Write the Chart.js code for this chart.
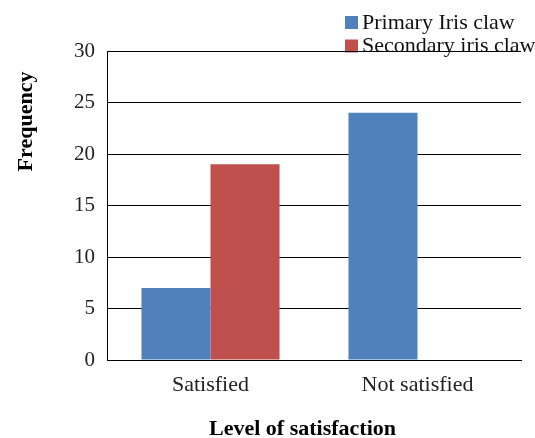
<!DOCTYPE html>
<html>
<head>
<meta charset="utf-8">
<script src="https://cdn.jsdelivr.net/npm/chart.js@4/dist/chart.umd.min.js"></script>
<style>
  html, body { margin: 0; padding: 0; background: #fff; }
  #wrap { width: 535px; height: 438px; }
</style>
</head>
<body>
<div id="wrap"><canvas id="c" width="535" height="438"></canvas></div>
<script>
const categories = ['Satisfied', 'Not satisfied'];
const primaryIrisClaw = [7, 24];
const secondaryIrisClaw = [19, 0];
const seriesNames = ['Primary Iris claw', 'Secondary iris claw'];
const yTicks = [0, 5, 10, 15, 20, 25, 30];

const SERIF = '"Liberation Serif", "Times New Roman", serif';
const BLUE = '#4F81BD';
const RED = '#C0504D';

// Legend and axis titles drawn by hand so they sit where the layout wants them
const decorations = {
  id: 'decorations',
  beforeDraw(chart) {
    const ctx = chart.ctx;
    ctx.save();
    // legend
    ctx.font = '22px ' + SERIF;
    ctx.textAlign = 'left';
    ctx.textBaseline = 'alphabetic';
    chart.data.datasets.forEach((ds, i) => {
      const y = 16 + i * 23.5;
      ctx.fillStyle = ds.backgroundColor;
      ctx.fillRect(345, y, 13, 13);
      ctx.fillStyle = '#111';
      ctx.fillText(ds.label, 362, y + 12.5);
    });
    // axis titles
    ctx.font = 'bold 22px ' + SERIF;
    ctx.fillStyle = '#000';
    ctx.textAlign = 'center';
    ctx.fillText('Level of satisfaction', 302.5, 435);
    ctx.translate(32, 121.5);
    ctx.rotate(-Math.PI / 2);
    ctx.fillText('Frequency', 0, 0);
    ctx.restore();
  }
};

new Chart(document.getElementById('c'), {
  type: 'bar',
  data: {
    labels: categories,
    datasets: [
      { label: seriesNames[0], data: primaryIrisClaw, backgroundColor: BLUE },
      { label: seriesNames[1], data: secondaryIrisClaw, backgroundColor: RED }
    ]
  },
  options: {
    responsive: false,
    animation: false,
    devicePixelRatio: 1,
    layout: { padding: { left: 0, top: 51, right: 14, bottom: 0 } },
    datasets: { bar: { categoryPercentage: 0.667, barPercentage: 1.0 } },
    plugins: { legend: { display: false }, tooltip: { enabled: false } },
    scales: {
      x: {
        grid: { display: false, drawTicks: false },
        border: { display: true, color: '#000', width: 1 },
        ticks: { color: '#222', font: { family: SERIF, size: 22 }, padding: 12, maxRotation: 0 },
        afterFit(scale) { scale.height = 78; }
      },
      y: {
        min: 0, max: 30,
        afterBuildTicks(scale) { scale.ticks = yTicks.map(v => ({ value: v })); },
        grid: { color: '#000', lineWidth: 1, drawTicks: false },
        border: { display: true, color: '#000', width: 1 },
        ticks: { color: '#222', font: { family: SERIF, size: 21 }, padding: 12 },
        afterFit(scale) { scale.width = 107; }
      }
    }
  },
  plugins: [decorations]
});
</script>
</body>
</html>
